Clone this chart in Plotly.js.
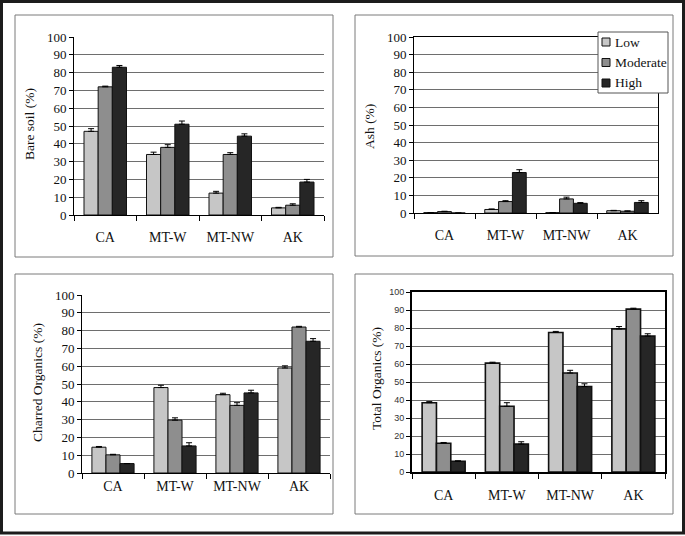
<!DOCTYPE html>
<html>
<head>
<meta charset="utf-8">
<script src="https://cdn.plot.ly/plotly-3.0.1.min.js"></script>
<style>html,body{margin:0;padding:0;background:#fff;}#chart{width:685px;height:536px;}</style>
</head>
<body>
<div id="chart"></div>
<script>
// ---------- data ----------
const sites = ["CA", "MT-W", "MT-NW", "AK"];
const severities = ["Low", "Moderate", "High"];

const bareLow = [47, 34, 12.3, 4];
const bareMod = [72, 38, 34, 5.5];
const bareHigh = [83, 51, 44.3, 18.5];
const bareLowErr = [1.5, 1.3, 1, 0.3];
const bareModErr = [0.4, 1.5, 1, 0.8];
const bareHighErr = [1, 1.8, 1.3, 1.5];

const ashLow = [0.2, 2, 0.2, 1.3];
const ashMod = [0.8, 6.5, 8, 1];
const ashHigh = [0, 23, 5.5, 6];
const ashLowErr = [0, 0.3, 0, 0.2];
const ashModErr = [0.2, 0.5, 1, 0.2];
const ashHighErr = [0, 1.6, 0.4, 1];

const charLow = [14.5, 48, 44, 59];
const charMod = [10.2, 29.7, 38, 82];
const charHigh = [5.3, 15.2, 45, 74];
const charLowErr = [0.4, 1.3, 0.8, 1.2];
const charModErr = [0.3, 1.3, 1.5, 0.4];
const charHighErr = [0, 1.8, 1.5, 1.5];

const totLow = [38.5, 60.5, 77.5, 79.5];
const totMod = [16, 36.5, 55, 90.5];
const totHigh = [6, 15.5, 47.5, 75.5];
const totLowErr = [0.6, 0.5, 0.6, 1.3];
const totModErr = [0.4, 2, 1.5, 0.5];
const totHighErr = [0.2, 1.3, 1.5, 1.3];

const noMinus = [0, 0, 0, 0];

// ---------- styling ----------
const W = 685, H = 536;
const px = x => x / W;
const py = y => 1 - y / H;
const serif = "'Liberation Serif', 'Times New Roman', serif";
const colors = ["#c6c6c6", "#8e8e8e", "#262626"];

function makeTraces(vals, errs, xa, ya, lw) {
  return vals.map((v, i) => ({
    type: "bar",
    name: severities[i],
    x: sites,
    y: v,
    xaxis: xa,
    yaxis: ya,
    showlegend: false,
    marker: {color: colors[i], line: {color: "#111", width: lw}},
    error_y: {type: "data", symmetric: false, array: errs[i], arrayminus: noMinus,
              color: "#000", thickness: 1, width: 3, visible: true},
    hoverinfo: "x+y+name"
  }));
}

const data = [].concat(
  makeTraces([bareLow, bareMod, bareHigh], [bareLowErr, bareModErr, bareHighErr], "x", "y", 1),
  makeTraces([ashLow, ashMod, ashHigh], [ashLowErr, ashModErr, ashHighErr], "x2", "y2", 1),
  makeTraces([charLow, charMod, charHigh], [charLowErr, charModErr, charHighErr], "x3", "y3", 1),
  makeTraces([totLow, totMod, totHigh], [totLowErr, totModErr, totHighErr], "x4", "y4", 1.6)
);

function xAxis(domain, anchor, standoff, mirrorW) {
  return {
    domain: domain, anchor: anchor, type: "category",
    tickson: "boundaries", ticks: "outside", ticklen: 5, tickcolor: "#000", tickwidth: 1,
    showline: true, linecolor: "#000", linewidth: mirrorW || 1, mirror: !!mirrorW,
    showgrid: false, zeroline: false, fixedrange: true,
    ticklabelstandoff: standoff,
    tickfont: {family: serif, size: 14, color: "#111"}
  };
}
function yAxis(domain, anchor, mirrorW, tickfont) {
  return {
    domain: domain, anchor: anchor, range: [0, 100], dtick: 10, tick0: 0,
    ticks: "outside", ticklen: 4, tickcolor: "#000", tickwidth: 1,
    showline: true, linecolor: "#000", linewidth: mirrorW || 1, mirror: !!mirrorW,
    showgrid: true, gridcolor: "#6e6e6e", gridwidth: 1, zeroline: false, fixedrange: true,
    tickfont: tickfont || {family: serif, size: 13, color: "#111"}
  };
}

const panelBox = (x0, y0, x1, y1) => ({
  type: "rect", xref: "paper", yref: "paper",
  x0: px(x0), x1: px(x1), y0: py(y1), y1: py(y0),
  line: {color: "#7a7a7a", width: 1}, layer: "below"
});

const ytitle = (text, x, y) => ({
  text: text, xref: "paper", yref: "paper", x: px(x), y: py(y),
  xanchor: "center", yanchor: "middle", textangle: -90, showarrow: false,
  font: {family: serif, size: 13.5, color: "#111"}
});

// legend for the Ash panel (drawn as a small key box)
const legX = 598, legY = 32, legW = 70, legH = 61, legRow = 20.5;
const legendShapes = [{
  type: "rect", xref: "paper", yref: "paper",
  x0: px(legX), x1: px(legX + legW), y0: py(legY + legH), y1: py(legY),
  fillcolor: "#fff", line: {color: "#555", width: 1}, layer: "above"
}].concat(severities.map((s, i) => ({
  type: "rect", xref: "paper", yref: "paper",
  x0: px(legX + 4), x1: px(legX + 12),
  y0: py(legY + 10 + i * legRow + 4), y1: py(legY + 10 + i * legRow - 4),
  fillcolor: colors[i], line: {color: "#111", width: 1}, layer: "above"
})));
const legendText = severities.map((s, i) => ({
  text: s, xref: "paper", yref: "paper",
  x: px(legX + 15), y: py(legY + 10 + i * legRow),
  xanchor: "left", yanchor: "middle", showarrow: false,
  font: {family: serif, size: 13.5, color: "#111"}
}));

const layout = {
  width: W, height: H,
  margin: {l: 0, r: 0, t: 0, b: 0},
  paper_bgcolor: "#fff", plot_bgcolor: "rgba(0,0,0,0)",
  barmode: "group", bargap: 0.32, bargroupgap: 0,
  showlegend: false,
  xaxis: xAxis([px(74), px(324)], "y", 9),
  yaxis: yAxis([py(215), py(37)], "x"),
  xaxis2: xAxis([px(414), px(658)], "y2", 9, 1),
  yaxis2: yAxis([py(213), py(37)], "x2", 1),
  xaxis3: xAxis([px(82), px(330)], "y3", 0),
  yaxis3: yAxis([py(473), py(295)], "x3"),
  xaxis4: xAxis([px(412), px(665)], "y4", 9, 2),
  yaxis4: yAxis([py(472), py(292)], "x4", 2, {family: "'Liberation Sans', Arial, sans-serif", size: 9, color: "#333"}),
  shapes: [
    {type: "rect", xref: "paper", yref: "paper", x0: px(1.5), x1: px(683.5), y0: py(533), y1: py(1.5),
     line: {color: "#1c1c1c", width: 3}},
    panelBox(15, 15, 333, 257),
    panelBox(355, 15, 673, 256),
    panelBox(15, 274, 333, 514),
    panelBox(355, 274, 673, 514)
  ].concat(legendShapes),
  annotations: [
    ytitle("Bare soil (%)", 29, 124),
    ytitle("Ash (%)", 369, 127),
    ytitle("Charred Organics (%)", 37, 383),
    ytitle("Total Organics (%)", 376, 379)
  ].concat(legendText)
};

Plotly.newPlot("chart", data, layout, {staticPlot: true, displayModeBar: false});
</script>
</body>
</html>
